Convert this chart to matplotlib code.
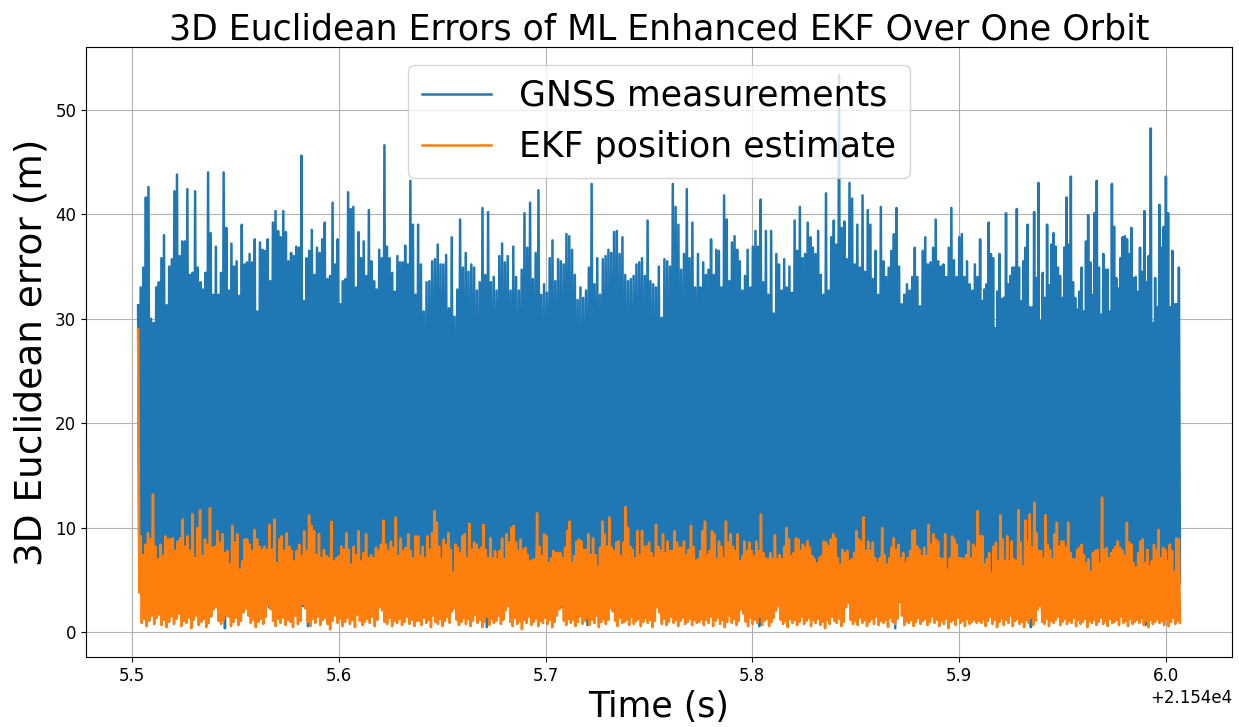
"""3D Euclidean error of GNSS fixes vs. ML enhanced EKF estimate over one orbit."""
import matplotlib
matplotlib.use("Agg")
import matplotlib.pyplot as plt
import numpy as np

# time span covered by each block of readings (s)
SEG_EDGES = [21545.5028, 21545.6383, 21545.7737, 21545.9102, 21546.0069]

# GNSS error: local maxima, block by block (m)
GNSS_PEAKS_1 = [31.3, 33, 34.9, 41.6, 42.6, 30, 29.6, 33, 33.5, 35.8,
                38, 31.3, 35, 35.7, 42.2, 43.8, 36, 37.4, 37.4, 42.4,
                34.2, 34.4, 42.2, 34.9, 33.5, 32.8, 34.4, 44, 38.2, 32.3,
                36.9, 32.3, 34.4, 44, 38.7, 32.7, 37.2, 35, 35.5, 32.2,
                39, 35.2, 35.4, 36.2, 35.4, 37.6, 30.7, 37.3, 36.6, 36.5,
                37.6, 33.6, 39.2, 40.3, 38.4, 37.8, 40.3, 38.3, 35.5, 36.3,
                36, 36.9, 36.8, 45.6, 31.7, 35.8, 36.5, 38.5, 34.2, 36.8,
                36.3, 37.6, 39.2, 33.8, 34.1, 41.1, 35.2, 37.6, 31.4, 33.6,
                33.8, 42.1, 40.5, 40.7, 33, 38.3, 35.8, 37.4, 34.1, 40.4,
                35.5, 33.6, 32.8, 36.6, 35.8, 46.6, 36.9, 35.8, 34.4, 32.6,
                36, 35.4, 35.4, 37, 35.2, 43.2, 39, 32.3]
GNSS_PEAKS_2 = [39, 35.2, 30.7, 33.5, 33.6, 35.5, 35.7, 37.1, 35.2, 35.2,
                36.1, 31, 37.8, 30.2, 32.8, 39.5, 34.9, 36.3, 34.5, 35.2,
                34.9, 32.7, 33.5, 40.6, 34.2, 40.2, 33.5, 34, 32.7, 36,
                37.2, 35.4, 36, 32.7, 36.9, 34, 32.7, 34.7, 40.1, 36.8,
                41.1, 33.8, 36.3, 42.3, 32.3, 33.3, 32.5, 35.8, 37.5, 33.6,
                35.7, 35.5, 35.2, 38.1, 37.9, 36.6, 34.2, 31.8, 33, 32,
                32.7, 34.9, 42.9, 33.3, 35.8, 32.3, 35.7, 36, 36.6, 36.3,
                38.3, 38.4, 36.2, 37.8, 34.2, 33.6, 33.8, 34.1, 35.2, 35.4,
                35.8, 34.1, 39.4, 33.6, 33.3, 33, 35, 30.1, 35.7, 35.5,
                35, 42.9, 40.7, 39, 34.7, 36.2, 42.4, 35.8, 39.2, 33]
GNSS_PEAKS_3 = [36.2, 33, 35.4, 34.2, 34.7, 37.6, 34.2, 36.6, 36.5, 33,
                41.8, 39.5, 33.6, 37.3, 37.9, 36.6, 35.5, 32.7, 34.1, 36.6,
                33, 36.9, 38.4, 36.9, 41.4, 33.5, 38.4, 32.3, 38.4, 30.5,
                36.2, 35.2, 32.7, 35.7, 33, 35, 32.5, 39.4, 36.5, 40.7,
                35.8, 36.2, 39.2, 37.8, 36.8, 36.2, 38.4, 34.2, 32.3, 42,
                32.7, 37.8, 39.4, 37.1, 53.3, 38.7, 39.3, 35.7, 43, 41.5,
                35.2, 39, 34.9, 41.8, 34.5, 40.4, 39, 33.8, 36.5, 32.3,
                40.7, 35.5, 34, 34.9, 36.5, 38.1, 40.6, 35, 31.4, 32.3,
                33.3, 32.7, 34, 36.8, 34, 31.2, 36.5, 37.8, 35.2, 35.4,
                36.8, 39.5, 35.5, 35, 35.2, 34, 36.8, 40.6, 35.6, 34,
                37.8, 38.1, 34, 35.5, 33.3, 32.7, 35.2, 34]
GNSS_PEAKS_4 = [37.6, 31.7, 32.8, 33.3, 39.2, 36.2, 35.8, 29.1, 32.6, 36.2,
                31.9, 32, 40.1, 33.3, 34.1, 34.9, 34.9, 40.5, 34.9, 31.7,
                35.5, 36.8, 39, 31.1, 31.1, 40.2, 33.9, 43, 29.8, 34.4,
                32, 39, 33.2, 37.1, 38.2, 36.9, 34.9, 34.1, 32, 36.8,
                41.6, 37.1, 43.6, 33.5, 32, 30.9, 32.6, 34.9, 30.7, 37.4,
                39.9, 35.4, 32.3, 40.1, 43.2, 34.9, 30.4, 36.2, 34.7, 34.7,
                30.7, 42.9, 38.8, 33.9, 32.9, 35.8, 37.8, 37.9, 37.6, 36.2,
                38.7, 33.9, 34, 32.6, 36.8, 34.5, 40.3, 33.5, 36, 48.2,
                29.6, 33.9, 31.1, 40.9, 36.8, 38.8, 43.6, 40.1, 31.1, 36.5,
                31.4, 31.4, 34.9]

# GNSS error: local minima (mostly hidden behind the EKF trace)
GNSS_DIPS_1 = [4.2, 3.1, 5.6, 2.4, 4.8, 6.1, 3.5, 2.9, 5.2, 4.0,
               3.3, 5.9, 2.2, 4.6, 3.8, 6.3, 2.7, 5.1, 4.4, 3.0,
               5.5, 2.5, 4.1, 6.0, 3.6, 1.9, 4.9, 3.2, 5.7, 2.8,
               4.3, 6.2, 3.4, 0.4, 5.0, 3.9, 2.6, 5.3, 4.5, 3.1,
               6.0, 2.3, 4.7, 3.7, 5.4, 2.9, 4.2, 6.4, 3.0, 5.1,
               2.4, 4.6, 3.5, 5.8, 2.1, 4.0, 3.3, 6.1, 2.7, 5.2,
               4.4, 3.6, 5.6, 2.5, 4.8, 0.6, 3.9, 5.9, 2.8, 4.3,
               3.2, 6.2, 2.2, 5.0, 3.8, 4.6, 2.6, 5.5, 3.4, 6.0,
               2.9, 4.1, 5.3, 3.1, 4.9, 2.3, 5.7, 3.7, 4.5, 2.7,
               6.3, 3.0, 4.7, 5.2, 2.4, 3.6, 5.8, 4.2, 2.8, 5.4,
               3.3, 4.0, 6.1, 2.5, 4.8, 3.9, 5.0, 2.1, 4.4, 3.5]
GNSS_DIPS_2 = [3.7, 5.2, 2.6, 4.4, 6.0, 3.1, 4.9, 2.3, 5.5, 3.8,
               4.6, 2.9, 5.8, 3.4, 4.1, 6.2, 2.5, 4.8, 3.6, 5.3,
               2.8, 4.3, 5.7, 3.0, 0.5, 4.7, 3.9, 6.1, 2.4, 5.0,
               3.5, 4.2, 5.6, 2.7, 4.5, 3.2, 5.9, 2.2, 4.0, 5.4,
               3.3, 6.3, 2.9, 4.6, 3.7, 5.1, 2.6, 4.9, 3.1, 5.8,
               4.3, 2.4, 5.5, 3.8, 4.1, 6.0, 2.8, 4.7, 3.4, 5.2,
               0.7, 4.4, 3.0, 5.7, 2.5, 4.8, 3.6, 6.2, 2.9, 4.2,
               5.0, 3.3, 4.6, 2.3, 5.6, 3.9, 4.1, 6.1, 2.7, 5.3,
               3.5, 4.9, 2.6, 5.9, 3.2, 4.5, 5.4, 2.8, 4.0, 3.7,
               6.0, 2.4, 5.1, 3.6, 4.7, 2.9, 5.8, 3.1, 4.3, 5.5,
               2.2, 4.6, 3.8, 6.3, 2.7, 5.0, 3.4, 4.4, 5.7, 3.0]
GNSS_DIPS_3 = [4.5, 2.9, 5.3, 3.6, 6.1, 2.4, 4.8, 3.2, 5.7, 4.0,
               2.7, 5.5, 3.9, 4.3, 6.2, 2.5, 5.0, 3.4, 4.7, 2.8,
               5.9, 3.7, 4.1, 0.6, 5.2, 3.0, 6.0, 2.6, 4.6, 3.5,
               5.4, 2.3, 4.9, 3.8, 5.8, 3.1, 4.2, 6.3, 2.9, 5.1,
               3.6, 4.4, 2.5, 5.6, 3.3, 4.8, 6.0, 2.7, 4.0, 5.3,
               3.2, 5.7, 2.4, 4.5, 3.9, 6.1, 2.8, 5.0, 3.5, 4.3,
               5.5, 2.6, 4.7, 3.0, 5.9, 3.7, 4.1, 2.2, 5.2, 3.4,
               6.2, 2.9, 4.6, 3.8, 5.4, 0.4, 4.9, 3.1, 5.8, 2.5,
               4.2, 3.6, 6.0, 2.7, 5.1, 3.3, 4.8, 5.6, 2.4, 4.4,
               3.9, 5.3, 2.8, 6.3, 3.2, 4.6, 5.0, 2.6, 4.0, 3.5,
               5.7, 3.0, 4.3, 6.1, 2.3, 4.9, 3.7, 5.5, 2.9, 4.1]
GNSS_DIPS_4 = [3.4, 5.6, 2.8, 4.5, 6.0, 3.1, 4.9, 2.5, 5.3, 3.8,
               4.2, 6.2, 2.7, 5.0, 3.5, 4.6, 2.3, 5.8, 3.9, 4.1,
               5.5, 3.0, 4.7, 0.5, 6.1, 3.6, 4.4, 2.6, 5.2, 3.3,
               4.8, 5.9, 2.9, 4.0, 3.7, 6.3, 2.4, 5.1, 3.2, 4.6,
               5.7, 2.8, 4.3, 3.5, 5.4, 3.0, 6.0, 2.5, 4.9, 3.8,
               4.1, 5.6, 2.7, 4.5, 3.3, 5.9, 2.2, 4.7, 3.6, 5.0,
               3.1, 6.2, 2.6, 4.2, 5.3, 3.9, 4.8, 2.4, 5.5, 3.4,
               4.4, 2.9, 5.8, 3.7, 4.0, 6.1, 0.7, 5.2, 3.2, 4.6,
               2.5, 5.7, 3.8, 4.3, 6.0, 2.8, 5.1, 3.5, 4.9, 3.0,
               5.4, 2.3, 4.7, 3.6, 6.3, 2.7, 4.1, 5.0, 3.3, 4.5]

# EKF error: local maxima (m)
EKF_PEAKS_1 = [29, 9.2, 7.4, 8.4, 9.5, 8.9, 13.2, 8.2, 7.0, 8.4,
               7.3, 9.2, 8.9, 8.9, 9, 7.8, 8.7, 9, 10.8, 8.2,
               9.2, 7.8, 11.3, 7.1, 10, 11.7, 7.3, 8.9, 8.4, 11.9,
               8.1, 8.2, 9.7, 8.6, 9.4, 7.6, 7.8, 6.5, 10.2, 8.6,
               9.4, 6, 6.8, 8.9, 8.9, 8.4, 7.8, 9.8, 8.9, 8.2,
               7.9, 8.2, 7.9, 10.3, 7.9, 10.8, 6.6, 8.9, 9.2, 7.8,
               9.5, 8.2, 7.8, 6.8, 7.8, 8.4, 7.3, 9.7, 7.8, 11.2,
               10.2, 9.7, 7.4, 9.4, 7.1, 7.9, 7.3, 7.1, 10.6, 6.8,
               7.1, 7.3, 8.2, 7.9, 9.5, 7.9, 6.5, 8.2, 7.4, 9.7,
               6.8, 7.6, 9.4, 7.1, 7.4, 7.1, 8.1, 7.8, 8.4, 10.7,
               8.4, 7.8, 8.7, 8.1, 11, 7.3, 9, 7.8, 8.1, 9.4,
               7.8, 7.1, 9.2]
EKF_PEAKS_2 = [9.2, 7.3, 8.2, 7.1, 9.2, 7.9, 9.5, 11.6, 10.5, 8.2,
               7, 8.9, 8.4, 9.5, 7.9, 5.7, 8.4, 8.1, 7.6, 9.2,
               9.4, 7.1, 10.4, 7.9, 8.6, 8.4, 7.9, 8.1, 10.3, 7.9,
               7.1, 9, 7.1, 7.8, 7, 7.8, 9, 7, 9.4, 8.6,
               10, 10.2, 8.6, 7.8, 8.9, 7.9, 8.1, 7.4, 6.8, 6.9,
               7, 11.4, 8.2, 7.3, 9.4, 9.2, 6.6, 7.1, 7.8, 7.6,
               7.6, 7.6, 7.1, 8.1, 9.7, 10.6, 6.6, 7.3, 8.7, 8.9,
               8.7, 7.9, 7.9, 9.4, 7.4, 9, 7.4, 6.3, 8.1, 10.6,
               9.4, 8.2, 11, 8.1, 7.8, 8.6, 8.7, 7.3, 8.6, 12,
               10, 8.2, 7.9, 7.1, 9.7, 7.4, 9.7, 8.2, 8.2, 8.6,
               7.6, 7.1, 10.3, 8.2, 7.8, 9.4, 7.6, 8.7, 7.8, 7.8,
               9.7, 8.6, 8.1, 8.1, 8.7, 7.4, 7.9, 10.2, 8.2, 6.8]
EKF_PEAKS_3 = [7, 7.8, 9.7, 10.6, 7.4, 7.8, 9.7, 9.4, 7, 8.7,
               8.2, 7.1, 10.6, 8.6, 9.4, 8.2, 7.8, 9.4, 6.8, 7.3,
               8.7, 7.8, 8.6, 7.8, 7.3, 8.7, 7.8, 11.3, 7.6, 7.1,
               7, 7.6, 7, 9.3, 7, 7.4, 7, 8.2, 10, 8.9,
               7.3, 7.6, 9, 8.9, 7.8, 8.4, 8.1, 8.7, 8.1, 7.3,
               7, 6.6, 7.1, 7.3, 8.7, 8.6, 8.2, 8.9, 9.4, 9,
               7.1, 6.5, 7.9, 7.6, 7.8, 6.8, 7, 7.6, 9.7, 8.9,
               8.7, 11, 7.8, 8.7, 7.8, 8.6, 7.1, 6.6, 7.1, 10,
               7.4, 6.5, 7.1, 8.1, 9, 7.9, 8.4, 7.1, 7.6, 6.6,
               7.1, 7.8, 9.7, 9.8, 8.2, 7.9, 7.3, 8.1, 7.3, 10.3,
               8.4, 9.4, 8.9, 8.7, 7.1, 7, 9.4, 6, 7.1, 9.2,
               8.9, 8.4, 7.1, 7.1, 7, 7.4, 8.7, 7.1, 8.4, 8.1,
               11.6]
EKF_PEAKS_4 = [9.2, 9.2, 6.5, 7, 7.6, 5.7, 8.2, 8.6, 6.8, 11.2,
               8.9, 6.8, 9.2, 6.8, 8.7, 7, 6.8, 11.7, 8.6, 6.3,
               10.7, 8.7, 11.3, 8.1, 12.4, 9.5, 7.8, 7.8, 7, 11.2,
               8.4, 7.9, 7, 9.4, 10.5, 8.2, 8.7, 8.7, 8.1, 10.5,
               7.6, 7, 7, 7.9, 8.1, 8.4, 7.4, 6.6, 7, 5.8,
               7.6, 7.8, 7.9, 6.6, 12.9, 7.9, 8.1, 7.1, 7.6, 7.9,
               8.2, 8.7, 8.1, 7.8, 7.3, 10.5, 8.6, 8.4, 6.6, 6.2,
               7.6, 8.7, 8.9, 6.6, 7.9, 6.3, 6.8, 8.4, 7.9, 9.8,
               7.1, 8.1, 7.9, 6.8, 8.4, 7.8, 5.8, 9, 8.9]

# EKF error: local minima
EKF_DIPS_1 = [3.8, 0.9, 1.3, 0.6, 1.1, 1.6, 0.8, 1.4, 1.7, 0.7,
              1.2, 0.5, 1.0, 1.5, 0.8, 1.3, 1.8, 0.6, 1.1, 0.9,
              1.4, 0.4, 1.2, 1.6, 0.7, 1.0, 1.3, 0.5, 0.9, 1.5,
              2.2, 2.4, 1.1, 0.8, 1.2, 1.7, 1.5, 0.6, 1.0, 1.4,
              0.7, 1.1, 1.9, 2.3, 1.6, 0.9, 1.2, 0.5, 1.0, 1.3,
              0.8, 1.5, 2.6, 2.2, 1.1, 0.6, 1.3, 0.9, 1.4, 0.7,
              1.2, 1.0, 0.5, 1.6, 0.8, 1.1, 2.7, 2.3, 1.0, 0.6,
              1.3, 0.9, 1.5, 0.7, 1.2, 1.4, 0.8, 0.3, 1.1, 1.6,
              0.9, 1.3, 0.6, 1.0, 1.4, 0.8, 1.2, 0.5, 1.7, 1.1,
              0.7, 1.0, 1.3, 0.9, 1.5, 0.6, 1.2, 2.4, 2.1, 1.0,
              0.8, 1.4, 0.6, 1.1, 0.9, 1.3, 0.7, 1.0, 1.5, 0.8,
              1.2, 0.6, 1.1, 0.9, 1.4, 0.7, 1.0, 1.3, 0.8, 1.2]
EKF_DIPS_2 = [1.1, 0.7, 1.4, 0.9, 1.2, 0.5, 1.6, 1.0, 0.8, 1.3,
              0.6, 1.1, 1.5, 0.9, 2.0, 2.3, 1.2, 0.7, 1.0, 1.4,
              0.8, 1.3, 0.6, 1.1, 1.7, 0.9, 1.2, 0.5, 1.0, 1.5,
              0.7, 1.3, 0.9, 1.1, 1.6, 0.8, 1.2, 2.1, 2.5, 1.0,
              0.6, 1.4, 0.8, 1.1, 0.3, 1.2, 0.9, 1.5, 0.7, 1.0,
              1.3, 0.6, 1.1, 0.9, 1.4, 0.8, 1.2, 0.5, 1.0, 1.6,
              2.2, 2.6, 1.1, 0.7, 1.3, 0.9, 1.2, 0.6, 1.0, 1.5,
              0.8, 1.1, 1.4, 0.7, 1.2, 0.9, 1.6, 0.5, 1.0, 1.3,
              0.8, 1.2, 2.3, 2.0, 1.1, 0.6, 1.4, 0.9, 1.0, 1.2,
              0.7, 1.5, 0.8, 1.1, 1.3, 0.6, 1.0, 1.4, 0.9, 1.2,
              0.5, 1.1, 2.4, 1.9, 0.8, 1.3, 0.7, 1.0, 1.5, 0.9,
              1.2, 0.6, 1.1, 1.4, 0.8, 1.0, 1.3, 0.7, 1.2, 0.9]
EKF_DIPS_3 = [1.0, 1.3, 0.7, 1.2, 0.9, 1.5, 0.6, 1.1, 1.4, 0.8,
              1.2, 0.5, 1.0, 1.6, 0.9, 1.3, 0.7, 1.1, 2.2, 1.8,
              1.0, 0.6, 1.4, 0.8, 1.2, 0.9, 1.5, 0.7, 1.1, 1.3,
              0.6, 1.0, 1.4, 2.1, 2.5, 1.2, 0.8, 1.1, 0.5, 1.3,
              0.9, 1.2, 0.7, 1.0, 1.5, 0.8, 1.1, 1.4, 0.6, 1.2,
              0.9, 1.3, 0.7, 1.0, 0.4, 1.2, 0.8, 1.5, 1.1, 0.9,
              1.3, 0.6, 1.0, 2.4, 2.8, 1.2, 0.8, 1.1, 0.7, 1.4,
              0.9, 1.2, 0.6, 1.0, 1.3, 0.8, 1.5, 0.7, 1.1, 0.9,
              1.2, 0.5, 1.4, 1.0, 0.8, 1.3, 2.9, 1.6, 0.7, 1.1,
              0.9, 1.2, 0.6, 1.0, 1.4, 0.8, 1.1, 1.3, 0.7, 1.0,
              1.5, 0.9, 1.2, 0.6, 1.1, 0.8, 1.3, 0.4, 1.0, 1.2,
              0.7, 1.4, 0.9, 1.1, 0.6, 1.3, 0.8, 1.0, 1.2, 0.9,
              1.1, 0.7, 1.3, 0.8, 1.0, 1.2, 0.6, 1.4, 0.9, 1.1]
EKF_DIPS_4 = [0.9, 1.3, 0.6, 1.1, 1.5, 0.8, 1.2, 0.5, 1.0, 1.4,
              0.7, 1.2, 0.9, 1.6, 0.6, 1.1, 1.3, 0.8, 1.0, 0.5,
              1.2, 0.9, 1.4, 0.7, 1.1, 2.2, 2.5, 1.0, 0.8, 1.3,
              0.6, 1.1, 0.9, 1.2, 1.5, 0.7, 1.0, 1.3, 0.8, 1.1,
              0.9, 1.4, 0.6, 1.2, 0.8, 1.0, 1.3, 0.5, 1.1, 0.9,
              1.2, 0.7, 1.0, 1.4, 0.8, 1.1, 0.6, 1.3, 0.9, 1.0,
              1.2, 0.7, 1.5, 0.9, 1.1, 0.6, 1.3, 0.8, 1.0, 1.2,
              0.9, 1.4, 0.7, 1.1, 0.5, 1.2, 0.8, 1.0, 1.3, 0.9,
              1.1, 0.7, 1.2, 0.6, 1.0, 1.4, 0.8, 1.1, 0.9, 1.2]

GNSS_PEAKS = [GNSS_PEAKS_1, GNSS_PEAKS_2, GNSS_PEAKS_3, GNSS_PEAKS_4]
GNSS_DIPS = [GNSS_DIPS_1, GNSS_DIPS_2, GNSS_DIPS_3, GNSS_DIPS_4]
EKF_PEAKS = [EKF_PEAKS_1, EKF_PEAKS_2, EKF_PEAKS_3, EKF_PEAKS_4]
EKF_DIPS = [EKF_DIPS_1, EKF_DIPS_2, EKF_DIPS_3, EKF_DIPS_4]


def build_trace(peaks, dips):
    """Alternate maxima and minima, spreading each block over its time span."""
    ts, ys = [], []
    last = len(peaks) - 1
    for k, (hi, lo) in enumerate(zip(peaks, dips)):
        n = len(hi)
        assert len(lo) >= n, (k, len(hi), len(lo))
        vals = np.empty(2 * n)
        vals[0::2] = hi
        vals[1::2] = lo[:n]
        t = np.linspace(SEG_EDGES[k], SEG_EDGES[k + 1], 2 * n, endpoint=(k == last))
        ts.append(t)
        ys.append(vals)
    return np.concatenate(ts), np.concatenate(ys)


t_gnss, err_gnss = build_trace(GNSS_PEAKS, GNSS_DIPS)
t_ekf, err_ekf = build_trace(EKF_PEAKS, EKF_DIPS)

fig = plt.figure(figsize=(12.39, 7.27), dpi=100)
ax = fig.add_subplot(111)
fig.subplots_adjust(left=0.0694, right=0.9944, top=0.9347, bottom=0.0963)

ax.plot(t_gnss, err_gnss, color="tab:blue", lw=1.8, label="GNSS measurements")
ax.plot(t_ekf, err_ekf, color="tab:orange", lw=1.8, label="EKF position estimate")

ax.grid(True)
ax.tick_params(labelsize=12)
ax.xaxis.get_offset_text().set_fontsize(12)
ax.set_xlabel("Time (s)", fontsize=25)
ax.set_ylabel("3D Euclidean error (m)", fontsize=27)
ax.set_title("3D Euclidean Errors of ML Enhanced EKF Over One Orbit", fontsize=25)
ax.legend(loc="upper center", fontsize=25)

fig.savefig("out.png", dpi=100)
